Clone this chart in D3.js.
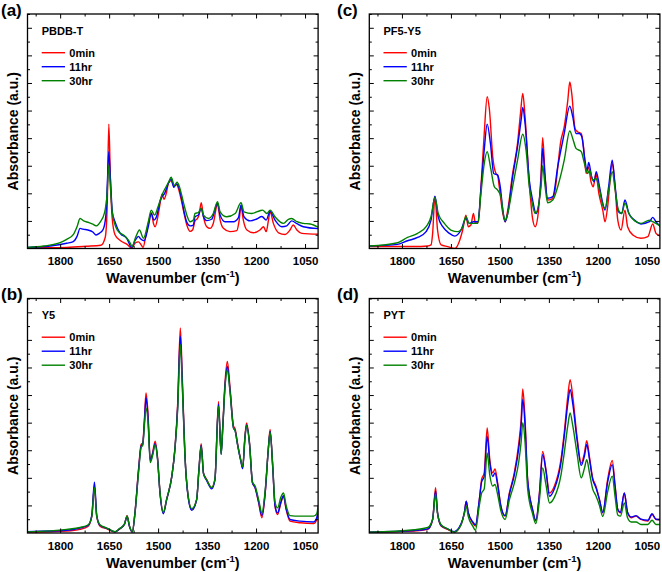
<!DOCTYPE html>
<html><head><meta charset="utf-8">
<script src="https://cdn.jsdelivr.net/npm/d3@7"></script>
<style>
body{margin:0;background:#fff}
text{font-family:Arial,"Liberation Sans",sans-serif;font-weight:bold;fill:#000}
</style>
</head><body>
<svg id="chart" width="662" height="572"></svg>
<script>
const xTickLabels=[1800,1650,1500,1350,1200,1050];
const xMinorTicks=[1875,1725,1575,1425,1275,1125];
const yMajorTicks=[0.1,0.2,0.3,0.4,0.5,0.6,0.7,0.8];
const yMinorTicks=[0.05,0.15,0.25,0.35,0.45,0.55,0.65,0.75,0.85];
const seriesNames=["0min","11hr","30hr"];
const seriesColors=["#ff0000","#0000ff","#008000"];
const panelLetters=["(a)","(b)","(c)","(d)"];
const sampleNames=["PBDB-T","Y5","PF5-Y5","PYT"];

// PBDB-T
const redA=[[1900,0.002],[1850,0.003],[1780,0.004],[1720,0.008],[1675,0.012],[1662,0.04],[1656,0.15],[1651,0.451],[1646,0.25],[1641,0.115],[1632,0.05],[1615,0.028],[1595,0.015],[1581,0.002],[1570,0.02],[1560,0.024],[1553,0.015],[1546,0.004],[1537,0.05],[1528,0.1],[1521,0.13],[1514,0.09],[1509,0.079],[1500,0.12],[1492,0.176],[1488,0.197],[1482,0.178],[1475,0.2],[1468,0.238],[1460,0.246],[1452,0.226],[1443,0.232],[1436,0.21],[1428,0.17],[1420,0.125],[1412,0.085],[1402,0.062],[1394,0.068],[1387,0.1],[1380,0.108],[1374,0.125],[1368,0.166],[1361,0.115],[1351,0.079],[1341,0.073],[1331,0.091],[1318,0.161],[1310,0.103],[1300,0.073],[1280,0.061],[1259,0.065],[1252,0.1],[1246,0.152],[1239,0.103],[1228,0.067],[1208,0.057],[1188,0.067],[1177,0.079],[1169,0.061],[1162,0.103],[1157,0.133],[1147,0.091],[1131,0.057],[1111,0.051],[1096,0.067],[1086,0.085],[1075,0.067],[1060,0.055],[1010,0.052]];
const blueA=[[1900,0.004],[1830,0.009],[1780,0.019],[1760,0.025],[1748,0.045],[1739,0.073],[1730,0.07],[1715,0.067],[1700,0.06],[1690,0.049],[1680,0.055],[1668,0.07],[1660,0.12],[1655,0.25],[1651,0.351],[1646,0.25],[1640,0.13],[1633,0.1],[1616,0.055],[1596,0.037],[1581,0.004],[1570,0.03],[1560,0.044],[1554,0.035],[1543,0.028],[1530,0.079],[1521,0.127],[1513,0.103],[1505,0.115],[1493,0.176],[1488,0.188],[1480,0.2],[1468,0.238],[1460,0.252],[1452,0.222],[1444,0.234],[1436,0.22],[1428,0.18],[1420,0.13],[1412,0.095],[1402,0.082],[1392,0.085],[1387,0.115],[1377,0.121],[1368,0.145],[1361,0.115],[1351,0.101],[1336,0.106],[1318,0.164],[1310,0.121],[1295,0.097],[1269,0.097],[1254,0.112],[1246,0.158],[1237,0.115],[1218,0.1],[1198,0.107],[1182,0.116],[1169,0.103],[1157,0.135],[1142,0.103],[1121,0.079],[1106,0.082],[1091,0.1],[1075,0.09],[1055,0.079],[1010,0.072]];
const greenA=[[1900,0.004],[1850,0.009],[1800,0.021],[1780,0.033],[1760,0.05],[1748,0.08],[1739,0.109],[1728,0.1],[1712,0.094],[1700,0.088],[1690,0.082],[1678,0.095],[1664,0.13],[1656,0.2],[1651,0.303],[1646,0.22],[1640,0.127],[1625,0.067],[1600,0.043],[1585,0.019],[1580,0.007],[1568,0.043],[1557,0.067],[1545,0.037],[1530,0.097],[1521,0.139],[1511,0.121],[1500,0.152],[1488,0.194],[1468,0.24],[1460,0.258],[1450,0.228],[1442,0.24],[1435,0.225],[1428,0.194],[1420,0.155],[1412,0.121],[1402,0.097],[1392,0.103],[1387,0.127],[1377,0.13],[1368,0.146],[1361,0.121],[1346,0.109],[1331,0.127],[1318,0.17],[1310,0.133],[1290,0.115],[1264,0.127],[1246,0.166],[1237,0.133],[1213,0.127],[1188,0.137],[1180,0.139],[1167,0.127],[1157,0.139],[1142,0.115],[1116,0.091],[1101,0.106],[1091,0.109],[1075,0.097],[1055,0.091],[1034,0.089],[1010,0.077]];

// Y5
const redB=[[1900,0.003],[1780,0.007],[1739,0.013],[1714,0.025],[1703,0.061],[1695,0.17],[1688,0.061],[1678,0.025],[1657,0.015],[1632,0.003],[1619,0.013],[1603,0.031],[1595,0.063],[1588,0.025],[1579,0.003],[1571,0.073],[1560,0.23],[1552,0.321],[1547,0.327],[1542,0.411],[1537,0.508],[1531,0.435],[1524,0.266],[1517,0.29],[1509,0.333],[1502,0.278],[1494,0.145],[1484,0.073],[1474,0.121],[1458,0.206],[1448,0.314],[1440,0.471],[1432,0.743],[1426,0.568],[1418,0.29],[1408,0.133],[1397,0.085],[1382,0.121],[1375,0.23],[1368,0.324],[1361,0.218],[1351,0.194],[1336,0.164],[1326,0.194],[1315,0.477],[1307,0.29],[1302,0.387],[1295,0.547],[1288,0.622],[1280,0.532],[1269,0.387],[1264,0.377],[1257,0.327],[1247,0.266],[1241,0.236],[1234,0.351],[1229,0.399],[1220,0.327],[1211,0.182],[1203,0.164],[1192,0.109],[1182,0.055],[1172,0.145],[1162,0.314],[1157,0.375],[1149,0.242],[1142,0.097],[1134,0.067],[1124,0.109],[1116,0.133],[1108,0.085],[1096,0.043],[1065,0.037],[1024,0.034],[1014,0.049],[1010,0.085]];
const blueB=[[1900,0.005],[1780,0.01],[1739,0.018],[1714,0.028],[1703,0.065],[1695,0.184],[1688,0.065],[1678,0.028],[1657,0.017],[1632,0.004],[1619,0.014],[1603,0.032],[1595,0.06],[1588,0.025],[1579,0.003],[1571,0.07],[1560,0.225],[1552,0.315],[1547,0.322],[1542,0.4],[1537,0.49],[1531,0.42],[1524,0.262],[1517,0.285],[1509,0.325],[1502,0.272],[1494,0.142],[1484,0.07],[1474,0.12],[1458,0.205],[1448,0.31],[1440,0.46],[1432,0.713],[1426,0.55],[1418,0.285],[1408,0.13],[1397,0.082],[1382,0.12],[1375,0.228],[1368,0.318],[1361,0.215],[1351,0.19],[1336,0.16],[1326,0.192],[1315,0.467],[1307,0.285],[1302,0.38],[1295,0.535],[1288,0.604],[1280,0.52],[1269,0.38],[1264,0.37],[1257,0.322],[1247,0.262],[1241,0.233],[1234,0.345],[1229,0.392],[1220,0.322],[1211,0.182],[1203,0.165],[1192,0.112],[1182,0.063],[1172,0.148],[1162,0.31],[1157,0.368],[1149,0.24],[1142,0.1],[1134,0.073],[1124,0.112],[1116,0.135],[1108,0.09],[1096,0.049],[1065,0.043],[1024,0.04],[1014,0.055],[1010,0.09]];
const greenB=[[1900,0.004],[1780,0.013],[1739,0.02],[1714,0.03],[1703,0.06],[1695,0.165],[1688,0.06],[1678,0.03],[1657,0.018],[1632,0.005],[1619,0.015],[1603,0.033],[1595,0.062],[1588,0.027],[1579,0.005],[1571,0.07],[1560,0.218],[1552,0.31],[1547,0.318],[1542,0.39],[1537,0.453],[1531,0.405],[1524,0.255],[1517,0.28],[1509,0.32],[1502,0.27],[1494,0.145],[1484,0.075],[1474,0.122],[1458,0.205],[1448,0.31],[1440,0.45],[1432,0.683],[1426,0.535],[1418,0.285],[1408,0.135],[1397,0.088],[1382,0.122],[1375,0.228],[1368,0.315],[1361,0.215],[1351,0.192],[1336,0.165],[1326,0.195],[1315,0.46],[1307,0.285],[1302,0.38],[1295,0.53],[1288,0.592],[1280,0.515],[1269,0.38],[1264,0.37],[1257,0.322],[1247,0.265],[1241,0.24],[1234,0.345],[1229,0.39],[1220,0.322],[1211,0.185],[1203,0.17],[1192,0.12],[1182,0.073],[1172,0.155],[1162,0.31],[1157,0.365],[1149,0.245],[1142,0.112],[1134,0.091],[1124,0.13],[1116,0.145],[1108,0.1],[1096,0.063],[1065,0.061],[1024,0.061],[1014,0.07],[1010,0.1]];

// PF5-Y5
const redC=[[1900,0.007],[1762,0.007],[1721,0.009],[1711,0.013],[1706,0.055],[1699,0.188],[1691,0.067],[1680,0.013],[1660,0.007],[1638,0.0],[1614,0.067],[1604,0.121],[1597,0.079],[1589,0.085],[1581,0.127],[1575,0.091],[1566,0.097],[1558,0.224],[1548,0.417],[1539,0.55],[1532,0.502],[1522,0.333],[1512,0.272],[1507,0.266],[1502,0.224],[1491,0.127],[1484,0.097],[1476,0.139],[1461,0.272],[1446,0.381],[1437,0.49],[1430,0.562],[1423,0.478],[1410,0.236],[1400,0.109],[1392,0.079],[1384,0.115],[1374,0.272],[1369,0.402],[1362,0.272],[1354,0.176],[1343,0.178],[1333,0.2],[1313,0.393],[1303,0.441],[1292,0.538],[1286,0.604],[1280,0.562],[1270,0.435],[1262,0.423],[1251,0.417],[1244,0.369],[1236,0.272],[1229,0.296],[1221,0.242],[1214,0.224],[1206,0.272],[1197,0.2],[1185,0.139],[1178,0.097],[1170,0.152],[1156,0.308],[1149,0.248],[1139,0.103],[1129,0.067],[1117,0.139],[1109,0.079],[1093,0.049],[1068,0.037],[1047,0.043],[1032,0.089],[1022,0.055],[1008,0.045]];
const blueC=[[1900,0.009],[1813,0.015],[1783,0.028],[1752,0.04],[1726,0.061],[1711,0.103],[1699,0.19],[1689,0.115],[1675,0.079],[1655,0.055],[1638,0.045],[1619,0.067],[1604,0.109],[1594,0.091],[1581,0.097],[1568,0.097],[1556,0.248],[1548,0.357],[1539,0.451],[1529,0.381],[1519,0.272],[1507,0.266],[1499,0.224],[1491,0.139],[1484,0.097],[1476,0.127],[1461,0.26],[1446,0.369],[1435,0.466],[1430,0.511],[1423,0.454],[1410,0.248],[1400,0.176],[1389,0.127],[1374,0.248],[1369,0.363],[1362,0.26],[1354,0.182],[1338,0.188],[1323,0.296],[1303,0.417],[1286,0.516],[1277,0.478],[1267,0.417],[1257,0.417],[1249,0.405],[1241,0.333],[1233,0.284],[1228,0.312],[1219,0.26],[1211,0.242],[1205,0.278],[1195,0.224],[1185,0.164],[1178,0.139],[1167,0.224],[1156,0.32],[1147,0.224],[1137,0.133],[1127,0.127],[1117,0.176],[1105,0.127],[1088,0.103],[1068,0.089],[1042,0.097],[1032,0.113],[1022,0.097],[1008,0.079]];
const greenC=[[1900,0.009],[1813,0.021],[1783,0.04],[1752,0.055],[1726,0.079],[1711,0.115],[1699,0.185],[1689,0.127],[1670,0.091],[1650,0.067],[1629,0.061],[1614,0.079],[1604,0.115],[1594,0.091],[1581,0.091],[1568,0.091],[1558,0.2],[1548,0.308],[1539,0.351],[1529,0.296],[1517,0.224],[1507,0.212],[1497,0.188],[1488,0.115],[1484,0.101],[1476,0.127],[1461,0.224],[1446,0.32],[1430,0.414],[1420,0.357],[1410,0.224],[1400,0.158],[1392,0.127],[1374,0.224],[1369,0.3],[1362,0.23],[1354,0.166],[1338,0.176],[1323,0.224],[1303,0.32],[1286,0.426],[1277,0.399],[1267,0.363],[1251,0.351],[1241,0.308],[1231,0.272],[1225,0.284],[1216,0.248],[1206,0.254],[1195,0.212],[1185,0.158],[1178,0.146],[1167,0.212],[1156,0.278],[1147,0.212],[1137,0.139],[1127,0.127],[1117,0.164],[1105,0.127],[1088,0.101],[1068,0.091],[1042,0.103],[1032,0.097],[1008,0.081]];

// PYT
const redD=[[1900,0.003],[1762,0.007],[1721,0.013],[1706,0.049],[1697,0.164],[1691,0.073],[1680,0.025],[1660,0.013],[1640,0.003],[1619,0.031],[1609,0.073],[1603,0.115],[1597,0.073],[1583,0.037],[1575,0.025],[1563,0.121],[1556,0.194],[1548,0.218],[1539,0.381],[1531,0.266],[1522,0.218],[1515,0.232],[1507,0.182],[1497,0.097],[1484,0.061],[1471,0.145],[1456,0.218],[1442,0.327],[1435,0.411],[1430,0.522],[1423,0.411],[1415,0.194],[1400,0.085],[1390,0.043],[1379,0.145],[1369,0.296],[1359,0.23],[1348,0.145],[1333,0.17],[1313,0.266],[1303,0.363],[1292,0.496],[1285,0.556],[1277,0.496],[1264,0.351],[1251,0.254],[1241,0.29],[1234,0.335],[1226,0.278],[1216,0.2],[1206,0.17],[1195,0.121],[1185,0.073],[1170,0.194],[1156,0.263],[1147,0.17],[1139,0.085],[1131,0.073],[1119,0.145],[1109,0.073],[1098,0.055],[1083,0.061],[1068,0.049],[1047,0.043],[1034,0.067],[1022,0.049],[1008,0.049]];
const blueD=[[1900,0.003],[1762,0.009],[1721,0.015],[1706,0.05],[1697,0.152],[1691,0.073],[1680,0.027],[1660,0.015],[1640,0.005],[1619,0.033],[1609,0.073],[1603,0.115],[1597,0.075],[1583,0.04],[1575,0.03],[1563,0.12],[1556,0.185],[1548,0.205],[1539,0.351],[1531,0.255],[1522,0.205],[1515,0.218],[1507,0.175],[1497,0.097],[1484,0.063],[1471,0.14],[1456,0.21],[1442,0.31],[1435,0.39],[1430,0.484],[1423,0.39],[1415,0.19],[1400,0.085],[1390,0.046],[1379,0.14],[1369,0.284],[1359,0.225],[1348,0.133],[1333,0.16],[1313,0.255],[1303,0.35],[1292,0.47],[1285,0.52],[1277,0.47],[1264,0.34],[1251,0.245],[1241,0.28],[1234,0.321],[1226,0.27],[1216,0.195],[1206,0.165],[1195,0.12],[1185,0.075],[1170,0.185],[1156,0.248],[1147,0.165],[1139,0.085],[1131,0.075],[1119,0.145],[1109,0.075],[1098,0.058],[1083,0.063],[1068,0.05],[1047,0.046],[1034,0.07],[1022,0.05],[1008,0.049]];
const greenD=[[1900,0.003],[1762,0.012],[1721,0.02],[1706,0.05],[1697,0.14],[1691,0.07],[1680,0.03],[1660,0.015],[1640,0.003],[1619,0.03],[1609,0.07],[1603,0.097],[1597,0.06],[1583,0.025],[1575,0.01],[1563,0.1],[1556,0.145],[1548,0.16],[1539,0.29],[1531,0.21],[1522,0.17],[1515,0.176],[1507,0.14],[1497,0.08],[1484,0.049],[1471,0.12],[1456,0.18],[1442,0.26],[1435,0.33],[1430,0.4],[1423,0.33],[1415,0.16],[1400,0.07],[1390,0.034],[1379,0.12],[1369,0.236],[1359,0.175],[1348,0.109],[1333,0.13],[1313,0.21],[1303,0.29],[1292,0.39],[1285,0.435],[1277,0.39],[1264,0.29],[1251,0.2],[1241,0.235],[1234,0.266],[1226,0.22],[1216,0.16],[1206,0.135],[1195,0.1],[1185,0.06],[1170,0.15],[1156,0.206],[1147,0.13],[1139,0.065],[1131,0.061],[1119,0.109],[1109,0.055],[1098,0.04],[1083,0.04],[1068,0.031],[1047,0.031],[1034,0.046],[1022,0.031],[1008,0.031]];

const svg=d3.select("#chart");
const W=290.6, H=234.5;
const panels=[
  {letter:panelLetters[0],name:sampleNames[0],series:[redA,blueA,greenA],left:27.5,top:14,lx:1},
  {letter:panelLetters[1],name:sampleNames[1],series:[redB,blueB,greenB],left:27.5,top:298.5,lx:1},
  {letter:panelLetters[2],name:sampleNames[2],series:[redC,blueC,greenC],left:369.3,top:14,lx:337},
  {letter:panelLetters[3],name:sampleNames[3],series:[redD,blueD,greenD],left:369.3,top:298.5,lx:337}
];

panels.forEach((p,pi)=>{
  const g=svg.append("g").attr("transform",`translate(${p.left},${p.top})`);
  const x=d3.scaleLinear().domain([1900,1010]).range([0,W]);
  const y=d3.scaleLinear().domain([0,0.85]).range([H,0]);
  const cid="clip"+pi;
  g.append("clipPath").attr("id",cid).append("rect").attr("width",W).attr("height",H);

  const line=d3.line().x(d=>x(d[0])).y(d=>y(d[1])).curve(d3.curveMonotoneX);
  const lg=g.append("g").attr("clip-path",`url(#${cid})`);
  p.series.forEach((s,si)=>{
    lg.append("path").datum(s).attr("d",line).attr("fill","none")
      .attr("stroke",seriesColors[si]).attr("stroke-width",1.4).attr("stroke-linejoin","round");
  });

  const styleAxis=sel=>{sel.select(".domain").remove();sel.selectAll("line").attr("stroke","#000").attr("stroke-width",1);};
  g.append("g").attr("transform",`translate(0,${H})`)
    .call(d3.axisBottom(x).tickValues(xTickLabels).tickSizeInner(-4.5).tickSizeOuter(0).tickPadding(8.5).tickFormat(d3.format("d")))
    .call(styleAxis)
    .selectAll("text").attr("font-size","11.5px").attr("font-weight","bold").attr("font-family","Arial, 'Liberation Sans', sans-serif").attr("fill","#000");
  g.append("g").attr("transform",`translate(0,${H})`)
    .call(d3.axisBottom(x).tickValues(xMinorTicks).tickSizeInner(-2.5).tickSizeOuter(0).tickFormat(""))
    .call(styleAxis);
  g.append("g").call(d3.axisTop(x).tickValues(xTickLabels).tickSizeInner(-4.5).tickSizeOuter(0).tickFormat("")).call(styleAxis);
  g.append("g").call(d3.axisTop(x).tickValues(xMinorTicks).tickSizeInner(-2.5).tickSizeOuter(0).tickFormat("")).call(styleAxis);
  g.append("g").call(d3.axisLeft(y).tickValues(yMajorTicks).tickSizeInner(-4.5).tickSizeOuter(0).tickFormat("")).call(styleAxis);
  g.append("g").call(d3.axisLeft(y).tickValues(yMinorTicks).tickSizeInner(-2.5).tickSizeOuter(0).tickFormat("")).call(styleAxis);
  g.append("g").attr("transform",`translate(${W},0)`).call(d3.axisRight(y).tickValues(yMajorTicks).tickSizeInner(-4.5).tickSizeOuter(0).tickFormat("")).call(styleAxis);
  g.append("g").attr("transform",`translate(${W},0)`).call(d3.axisRight(y).tickValues(yMinorTicks).tickSizeInner(-2.5).tickSizeOuter(0).tickFormat("")).call(styleAxis);

  g.append("rect").attr("width",W).attr("height",H).attr("fill","none").attr("stroke","#000").attr("stroke-width",1.3);

  const xt=g.append("text").attr("x",W/2).attr("y",H+34.5).attr("text-anchor","middle").attr("font-size","14.5px");
  xt.append("tspan").text("Wavenumber (cm");
  xt.append("tspan").attr("dy",-6).attr("font-size","9.5px").text("-1");
  xt.append("tspan").attr("dy",6).text(")");
  g.append("text").attr("transform",`translate(-9.5,${H/2}) rotate(-90)`).attr("text-anchor","middle").attr("font-size","14px").text("Absorbance (a.u.)");

  g.append("text").attr("x",14.2).attr("y",20.5).attr("font-size","11px").text(p.name);
  seriesNames.forEach((n,si)=>{
    const ly=38.7+si*14;
    g.append("line").attr("x1",14.2).attr("x2",37.5).attr("y1",ly).attr("y2",ly).attr("stroke",seriesColors[si]).attr("stroke-width",1.4);
    g.append("text").attr("x",41.8).attr("y",ly+4).attr("font-size","11px").text(n);
  });

  svg.append("text").attr("x",p.lx).attr("y",p.top+1.5).attr("font-size","17px").text(p.letter);
});
</script>
</body></html>
